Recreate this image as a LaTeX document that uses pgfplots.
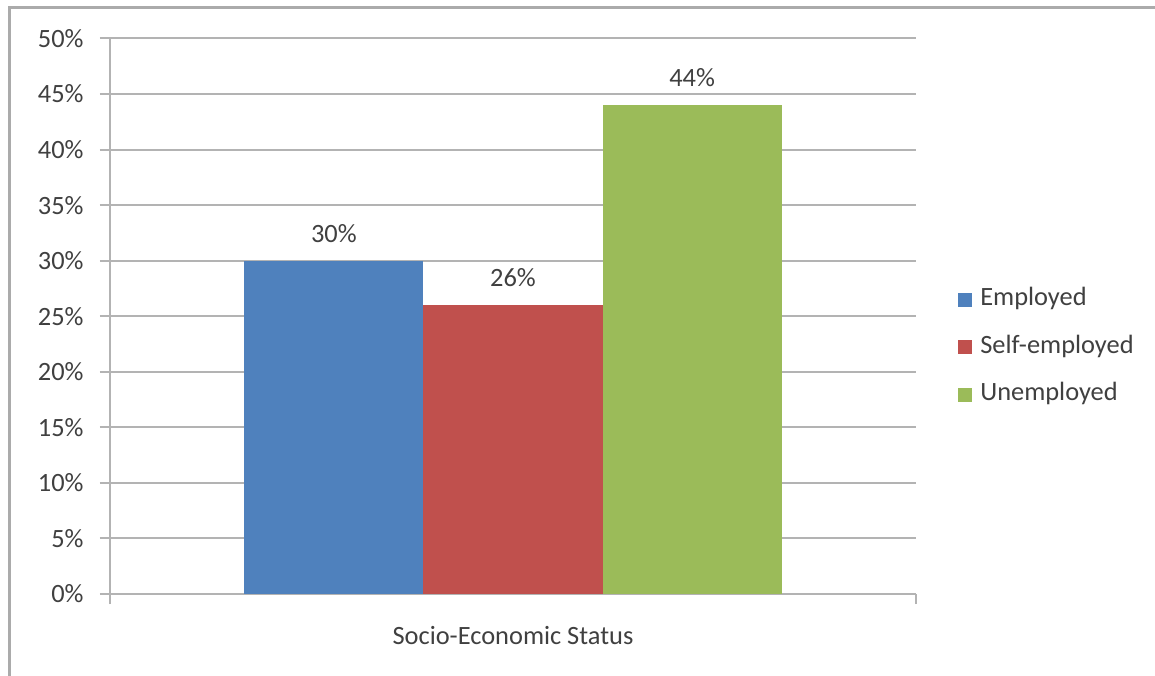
\documentclass[border=0pt]{standalone}
\usepackage{fontspec}
\setmainfont{Carlito}
\usepackage{pgfplots}
\pgfplotsset{compat=1.18}
\definecolor{cEmp}{HTML}{4F81BD}
\definecolor{cSelf}{HTML}{C0504D}
\definecolor{cUnemp}{HTML}{9BBB59}
\definecolor{txt}{HTML}{404040}
\definecolor{gridc}{HTML}{B3B3B3}
\definecolor{bordc}{HTML}{ABABAB}
\begin{document}
\begin{tikzpicture}[font=\fontsize{13.2}{15}\selectfont, text=txt]
\useasboundingbox (0,0) rectangle (577.5pt,337.5pt);
\fill[white] (0,0) rectangle (577.5pt,337.5pt);
\draw[bordc, line width=1.3pt] (4.6pt,-2pt) -- (4.6pt,333.8pt) -- (580pt,333.8pt);
\begin{axis}[
  at={(55pt,40.5pt)}, anchor=south west,
  scale only axis, width=403pt, height=277.75pt,
  xmin=-1.5, xmax=1.5, ymin=0, ymax=50,
  ytick={0,5,...,50},
  yticklabel={\pgfmathprintnumber{\tick}\%},
  xtick={-1.5,1.5}, xticklabels={},
  ymajorgrids, grid style={gridc, line width=1pt},
  axis x line*=bottom, axis y line*=left,
  axis line style={gridc, line width=1pt},
  tick style={gridc, line width=1pt},
  tick align=outside, major tick length=5pt,
  /pgf/number format/assume math mode=true,
  yticklabel style={inner sep=0pt, xshift=-8pt, text=txt},
  ybar, bar width=0.6667,
  nodes near coords={\pgfmathprintnumber{\pgfplotspointmeta}\%},
  nodes near coords style={anchor=south, inner sep=0pt, yshift=9pt, text=txt},
  xlabel={Socio-Economic Status},
  xlabel style={at={(axis description cs:0.5,0)}, anchor=center, yshift=-21pt, text=txt},
  legend style={at={(1.052,0.4446)}, anchor=west, draw=none, fill=none, inner sep=0pt,
    row sep=11.75pt, nodes={inner sep=0pt, text height=9pt, text depth=3pt}, text=txt},
  legend cell align=left,
  legend image code/.code={\fill[#1] (0pt,-3.5pt) rectangle (7pt,3.5pt); \path (11pt,0pt);},
]
\addplot[fill=cEmp, draw=none, bar shift=0pt] coordinates {(-0.6667,30)};
\addplot[fill=cSelf, draw=none, bar shift=0pt] coordinates {(0,26)};
\addplot[fill=cUnemp, draw=none, bar shift=0pt] coordinates {(0.6667,44)};
\legend{Employed, Self-employed, Unemployed}
\end{axis}
\end{tikzpicture}
\end{document}
